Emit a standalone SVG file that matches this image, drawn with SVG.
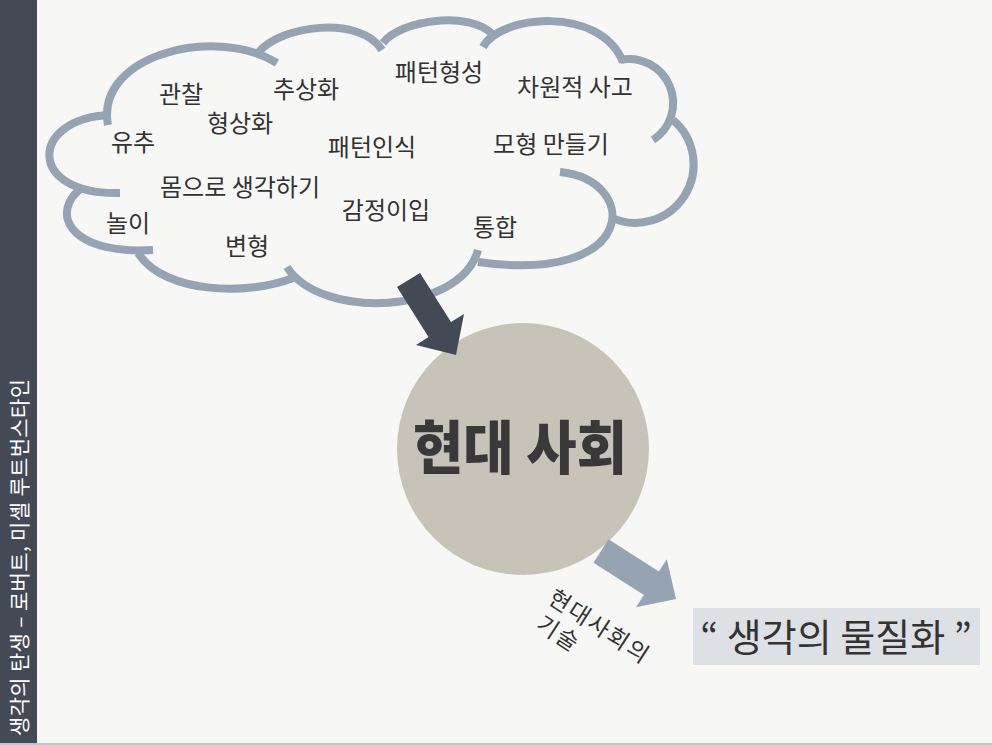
<svg xmlns="http://www.w3.org/2000/svg" width="992" height="745" viewBox="0 0 992 745">
<style>
.lbl{font-family:"Noto Sans CJK KR","Noto Sans",sans-serif;font-size:24px;fill:#333333;text-anchor:middle}
.cloud path{fill:none;stroke:#95a3b3;stroke-width:8;stroke-linecap:butt}
</style>
<rect x="0" y="0" width="992" height="745" fill="#f7f7f5"/>
<rect x="0" y="743" width="992" height="2" fill="#c4c4c4"/>
<g id="sidebar">
<rect x="0" y="0" width="37" height="743" fill="#434a55"/>
<text transform="translate(27,736) rotate(-90)" font-family="'Noto Sans CJK KR','Noto Sans',sans-serif" font-size="21" fill="#ffffff" textLength="357" lengthAdjust="spacing">생각의 탄생 – 로버트, 미셸 루트번스타인</text>
</g>
<g id="cloud" class="cloud">
<path d="M108,125 C95,55 215,25 277,63"/>
<path d="M258,53 C280,25 360,15 382,50"/>
<path d="M383,43 C400,20 470,10 493,35"/>
<path d="M483,47 C500,15 600,5 623,62"/>
<path d="M620,60 A44,44 0 0 1 653,140"/>
<path d="M673,120 A58.3,58.3 0 0 1 610,217"/>
<path d="M560,172 C640,180 640,285 478,262"/>
<path d="M478,250 C460,315 320,320 287,267"/>
<path d="M138,253 C165,295 250,295 293,278"/>
<path d="M83,187 C50,210 65,255 153,250"/>
<path d="M110,115 C30,118 25,195 120,193"/>
</g>
<g id="cloud-labels">
<text class="lbl" x="181" y="103">관찰</text>
<text class="lbl" x="306" y="98">추상화</text>
<text class="lbl" x="439" y="81">패턴형성</text>
<text class="lbl" x="575" y="96">차원적 사고</text>
<text class="lbl" x="133" y="151">유추</text>
<text class="lbl" x="240" y="132">형상화</text>
<text class="lbl" x="372" y="156">패턴인식</text>
<text class="lbl" x="551" y="153">모형 만들기</text>
<text class="lbl" x="240" y="196">몸으로 생각하기</text>
<text class="lbl" x="386" y="219">감정이입</text>
<text class="lbl" x="495" y="236">통합</text>
<text class="lbl" x="128" y="232">놀이</text>
<text class="lbl" x="247" y="255">변형</text>
</g>
<g id="modern-society">
<circle cx="523" cy="449" r="126" fill="#c8c3b8"/>
<text x="520" y="469" text-anchor="middle" font-family="'Noto Sans CJK KR',sans-serif" font-weight="900" font-size="58" fill="#3a3838" textLength="214" lengthAdjust="spacingAndGlyphs">현대 사회</text>
</g>
<g id="materialization">
<rect x="693" y="608" width="287" height="57" fill="#dde0e5"/>
<text x="836" y="651" text-anchor="middle" font-family="'Noto Sans CJK KR','Noto Sans',sans-serif" font-size="38" fill="#333333">“ 생각의 물질화 ”</text>
</g>
<g id="connectors">
<polygon points="397,287 420,273 451,322 464,314 456,355 416,345 428.5,337" fill="#434a55"/>
<polygon points="593.5,562.8 608.5,539.2 658.9,571.4 666.8,559.2 676,599 636,607.2 643.9,595" fill="#95a3b3"/>
<text transform="translate(546.6,602) rotate(33)" font-family="'Noto Sans CJK KR','Noto Sans',sans-serif" font-size="23" fill="#333333" letter-spacing="2"><tspan x="0" y="0">현대사회의</tspan><tspan x="4" y="28.4">기술</tspan></text>
</g>
</svg>
